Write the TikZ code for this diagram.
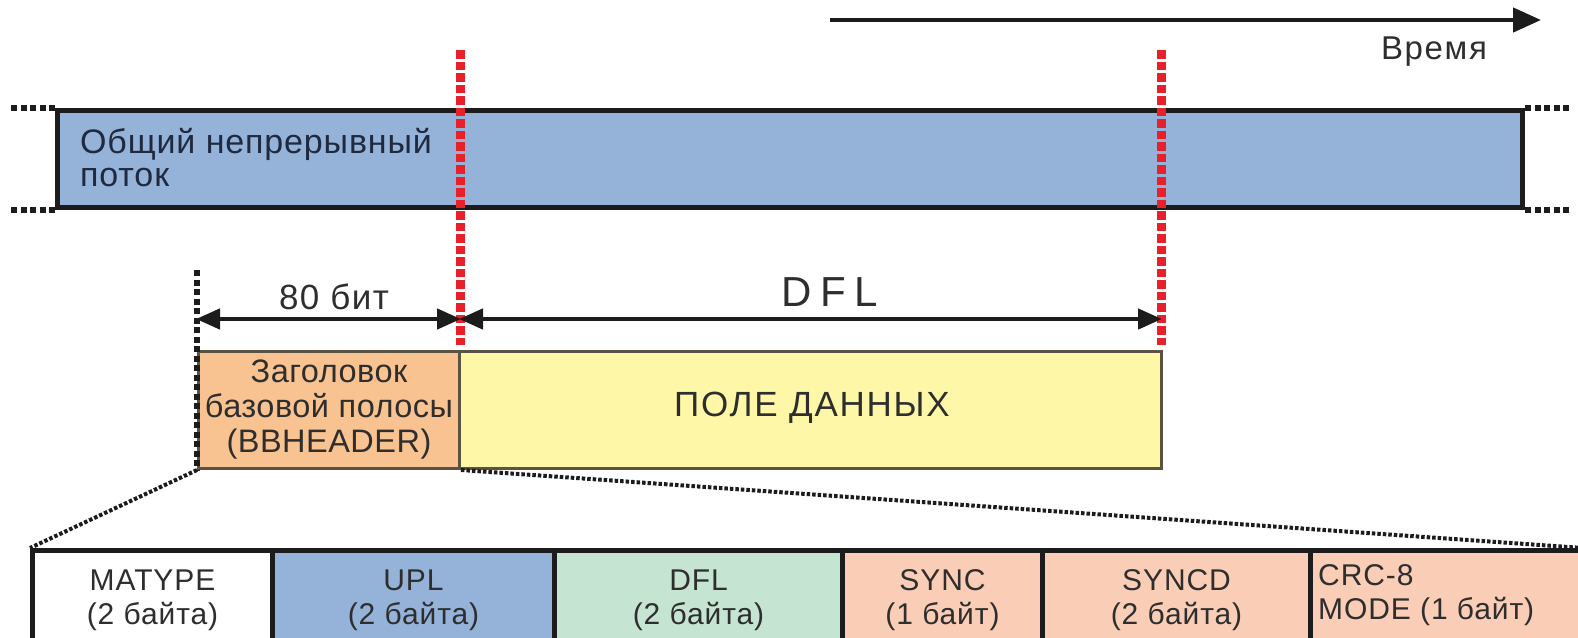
\documentclass[tikz,border=0pt]{standalone}
\usepackage{fontspec}
\setmainfont{Liberation Sans}
\usetikzlibrary{arrows.meta}
\definecolor{streamblue}{HTML}{95B3D9}
\definecolor{hdrorange}{HTML}{F9C391}
\definecolor{datayellow}{HTML}{FFF7A8}
\definecolor{cellgreen}{HTML}{C6E4D2}
\definecolor{cellsalmon}{HTML}{F9CDB6}
\definecolor{edgedark}{HTML}{1C1C1C}
\definecolor{edgeolive}{HTML}{5A5242}
\definecolor{markred}{HTML}{E8202A}
\definecolor{txt}{HTML}{2E2E2E}
\definecolor{navytxt}{HTML}{1F2A40}
\tikzset{
  barbox/.style={draw=edgedark, line width=5pt, fill=streamblue, anchor=north west, inner sep=0pt},
  framebox/.style={draw=edgeolive, line width=3pt, anchor=north west, inner sep=0pt},
  cellbox/.style={draw=edgedark, line width=5pt, anchor=north west, inner sep=0pt,
     minimum height=100pt, text=txt, align=center,
     font=\fontsize{30}{34}\selectfont\addfontfeature{LetterSpace=3}},
  blackdots/.style={edgedark, line width=5.5pt, dash pattern=on 6pt off 3.5pt},
  reddots/.style={markred, line width=9pt, dash pattern=on 8.5pt off 3pt},
  slantdots/.style={edgedark, line width=4pt, dash pattern=on 3.5pt off 2pt},
  dimarrow/.style={edgedark, line width=4.5pt, {Triangle[length=24pt,width=20pt]}-{Triangle[length=24pt,width=20pt]}, shorten <=-1pt, shorten >=-1pt},
  lbl/.style={text=txt, inner sep=0pt},
}
\begin{document}
\begin{tikzpicture}[x=1pt,y=-1pt]
\useasboundingbox (0,0) rectangle (1578,637);

% time axis
\coordinate (t0) at (830,20);
\coordinate (t1) at (1541,20);
\draw[edgedark, line width=4.5pt, -{Triangle[length=28pt,width=24pt]}] (t0) -- (t1);
\node[lbl, font=\fontsize{33}{34}\selectfont\addfontfeature{LetterSpace=5}] (time) at (1434,52) {Время};

% common continuous stream
\node[barbox, minimum width=1465pt, minimum height=97pt] (stream) at (55,108) {};
\node[lbl, anchor=west, align=left, text=navytxt,
  font=\fontsize{34}{33}\selectfont\addfontfeature{LetterSpace=2.5}]
  (streamtxt) at (80,158) {Общий непрерывный\\поток};
\draw[blackdots] (stream.north west) -- ++(-45,0) coordinate (sl1);
\draw[blackdots] (stream.south west) -- ++(-45,0) coordinate (sl2);
\draw[blackdots] (stream.north east) -- ++(45,0) coordinate (sr1);
\draw[blackdots] (stream.south east) -- ++(45,0) coordinate (sr2);

% baseband frame
\node[framebox, fill=hdrorange, minimum width=261pt, minimum height=117pt] (hdr) at (197,350) {};
\node[framebox, fill=datayellow, minimum width=702pt, minimum height=117pt] (data) at (458,350) {};
\node[lbl, align=center, font=\fontsize{32.5}{35}\selectfont\addfontfeature{LetterSpace=1.5}] (hdrtxt) at (hdr.center)
  {Заголовок\\базовой полосы\\(BBHEADER)};
\node[lbl, font=\fontsize{35}{36}\selectfont\addfontfeature{LetterSpace=5}] (datatxt) at (812,408) {ПОЛЕ ДАННЫХ};

% frame boundary markers
\coordinate (r1top) at (460,50);
\coordinate (r1bot) at (460,345);
\coordinate (r2top) at (1161,50);
\coordinate (r2bot) at (1161,345);
\draw[reddots] (r1top) -- (r1bot);
\draw[reddots] (r2top) -- (r2bot);
\coordinate (btop) at (197,270);
\draw[blackdots] (btop) -- (hdr.south west);

% lengths
\coordinate (a0) at (197,319);
\coordinate (a1) at (460,319);
\coordinate (a2) at (1161,319);
\draw[dimarrow] (a0) -- (a1);
\draw[dimarrow] (a1) -- (a2);
\node[lbl, font=\fontsize{35}{36}\selectfont\addfontfeature{LetterSpace=4}] (bits) at (334,297) {80 бит};
\node[lbl, font=\fontsize{42}{44}\selectfont\addfontfeature{LetterSpace=20}] (dfl) at (830,292) {DFL};

% header fields
\node[cellbox, fill=white, minimum width=240pt] (matype) at (30,548) {MATYPE\\(2 байта)};
\node[cellbox, fill=streamblue, minimum width=282pt] (upl) at (270,548) {UPL\\(2 байта)};
\node[cellbox, fill=cellgreen, minimum width=288pt] (dflc) at (552,548) {DFL\\(2 байта)};
\node[cellbox, fill=cellsalmon, minimum width=200pt] (sync) at (840,548) {SYNC\\(1 байт)};
\node[cellbox, fill=cellsalmon, minimum width=268pt] (syncd) at (1040,548) {SYNCD\\(2 байта)};
\node[cellbox, fill=cellsalmon, minimum width=270pt] (crc) at (1308,548) {};
\node[lbl, anchor=west, align=left, font=\fontsize{30}{34}\selectfont\addfontfeature{LetterSpace=3}]
  (crctxt) at (1318,595) {CRC-8\\MODE (1 байт)};

% zoom lines
\draw[slantdots] (hdr.south west) -- (matype.north west);
\draw[slantdots] (hdr.south east) -- (crc.north east);
\end{tikzpicture}
\end{document}
